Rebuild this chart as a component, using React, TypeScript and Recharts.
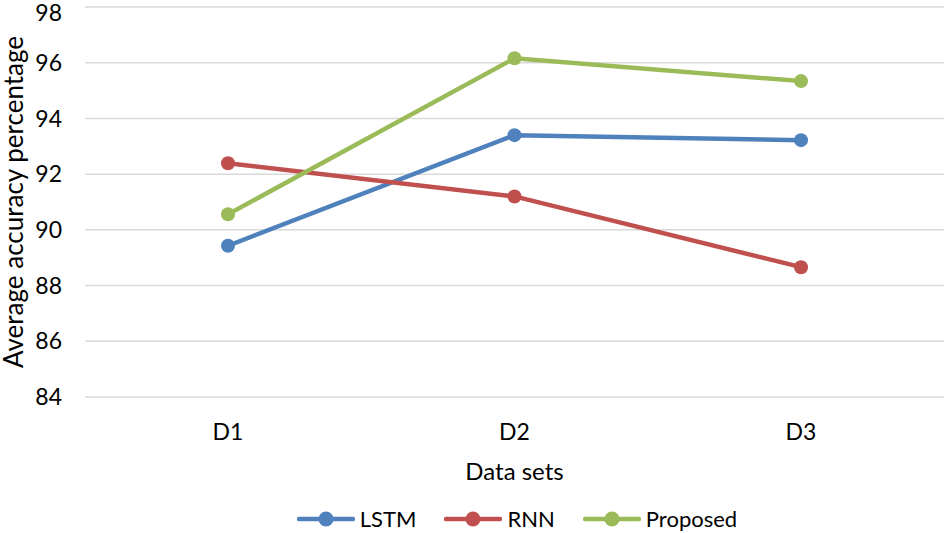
import { LineChart, Line, XAxis, YAxis, CartesianGrid, Legend } from "recharts";

const datasets = ["D1", "D2", "D3"];
const lstm = [89.43, 93.4, 93.22];
const rnn = [92.39, 91.2, 88.66];
const proposed = [90.56, 96.16, 95.34];
const yTicks = [84, 86, 88, 90, 92, 94, 96, 98];

const series = [
  { key: "LSTM", color: "#4F81BD" },
  { key: "RNN", color: "#C0504D" },
  { key: "Proposed", color: "#9BBB59" },
];

const data = datasets.map((d, i) => ({
  name: d,
  LSTM: lstm[i],
  RNN: rnn[i],
  Proposed: proposed[i],
}));

const FONT = "Lato, 'Open Sans', sans-serif";

function LegendContent() {
  return (
    <div style={{ display: "flex", justifyContent: "center", alignItems: "center", paddingTop: 28, paddingLeft: 118, fontFamily: FONT, fontSize: 22, color: "#000" }}>
      {series.map((s) => (
        <div key={s.key} style={{ display: "flex", alignItems: "center", marginRight: 28 }}>
          <svg width={58} height={18} style={{ marginRight: 5 }}>
            <line x1={2} y1={9} x2={56} y2={9} stroke={s.color} strokeWidth={4.5} strokeLinecap="round" />
            <circle cx={29} cy={9} r={7.5} fill={s.color} />
          </svg>
          <span>{s.key}</span>
        </div>
      ))}
    </div>
  );
}

export default function App() {
  return (
    <div style={{ position: "absolute", left: 0, top: 0, background: "#fff" }}>
      <LineChart width={944} height={533} data={data} margin={{ top: 7, right: 0, bottom: 0, left: 0 }}>
        <CartesianGrid horizontal vertical={false} stroke="#d9d9d9" strokeWidth={1.5} />
        <XAxis
          dataKey="name"
          axisLine={false}
          tickLine={false}
          tickSize={0}
          tickMargin={27}
          height={80}
          padding={{ left: 143, right: 143 }}
          tick={{ fill: "#000", fontSize: 23, fontFamily: FONT }}
          label={{ value: "Data sets", position: "insideBottom", offset: -3, fill: "#000", fontSize: 24, fontFamily: FONT }}
        />
        <YAxis
          domain={[84, 98]}
          ticks={yTicks}
          axisLine={false}
          tickLine={false}
          tickSize={0}
          tickMargin={23}
          width={85}
          tick={{ fill: "#000", fontSize: 23, fontFamily: FONT }}
          label={{ value: "Average accuracy percentage", angle: -90, position: "insideLeft", offset: 0, dx: 14, fill: "#000", fontSize: 26, fontFamily: FONT, style: { textAnchor: "middle" } }}
        />
        <Legend verticalAlign="bottom" height={56} content={<LegendContent />} />
        {series.map((s) => (
          <Line
            key={s.key}
            dataKey={s.key}
            stroke={s.color}
            strokeWidth={4.5}
            dot={{ r: 7, fill: s.color, stroke: s.color, strokeWidth: 0 }}
            activeDot={false}
            isAnimationActive={false}
          />
        ))}
      </LineChart>
    </div>
  );
}
